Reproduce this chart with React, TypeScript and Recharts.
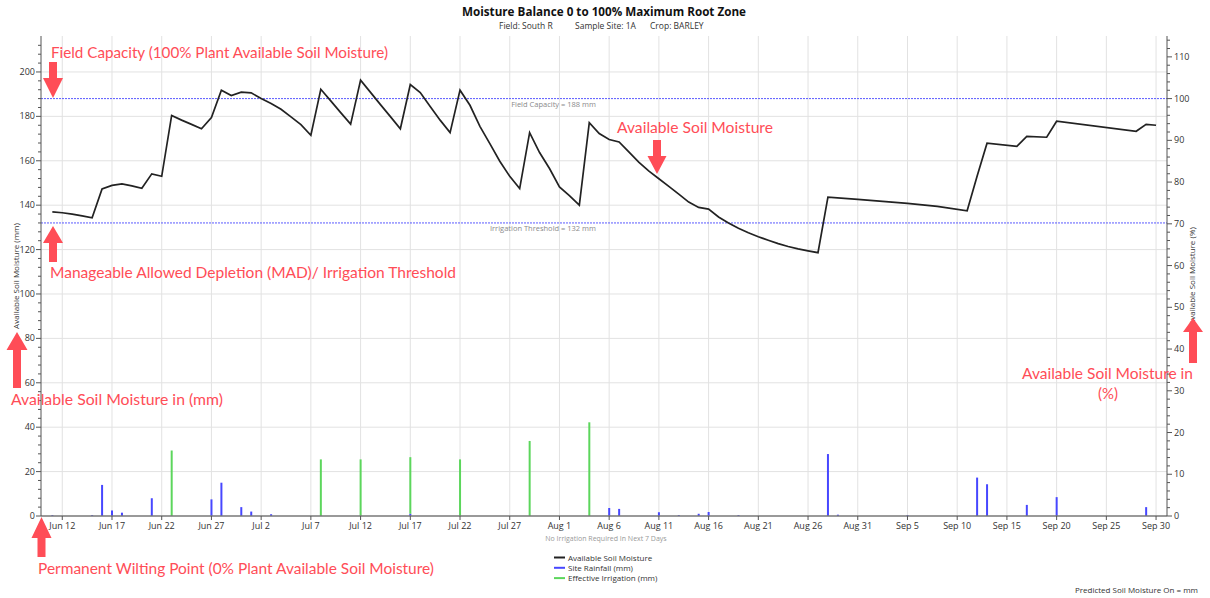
import React from "react";
import {
  ComposedChart,
  Line,
  Bar,
  XAxis,
  YAxis,
  ReferenceLine,
  CartesianGrid,
} from "recharts";

// ---------- DATA ----------
const fieldCapacity = 188; // mm (100%)
const irrigationThreshold = 132; // mm

const asmDates = [
  "06-11", "06-12", "06-13", "06-14", "06-15", "06-16", "06-17", "06-18", "06-19", "06-20",
  "06-21", "06-22", "06-23", "06-24", "06-25", "06-26", "06-27", "06-28", "06-29", "06-30",
  "07-01", "07-02", "07-03", "07-04", "07-05", "07-06", "07-07", "07-08", "07-09", "07-10",
  "07-11", "07-12", "07-13", "07-14", "07-15", "07-16", "07-17", "07-18", "07-19", "07-20",
  "07-21", "07-22", "07-23", "07-24", "07-25", "07-26", "07-27", "07-28", "07-29", "07-30",
  "07-31", "08-01", "08-02", "08-03", "08-04", "08-05", "08-06", "08-07", "08-08", "08-09",
  "08-10", "08-11", "08-12", "08-13", "08-14", "08-15", "08-16", "08-17", "08-18", "08-19",
  "08-20", "08-21", "08-22", "08-23", "08-24", "08-25", "08-26", "08-27", "08-28", "08-31",
  "09-05", "09-08", "09-11", "09-12", "09-13", "09-16", "09-17", "09-19", "09-20", "09-28",
  "09-29", "09-30",
];
const asmValues = [
  137.0, 136.6, 136.0, 135.2, 134.3, 147.3, 148.9, 149.6, 148.7, 147.6,
  154.1, 153.0, 180.4, 178.3, 176.4, 174.4, 179.5, 191.8, 189.4, 190.9,
  190.6, 188.0, 185.8, 183.2, 179.8, 176.3, 171.5, 192.2, 187.0, 181.7,
  176.5, 196.3, 190.8, 185.3, 179.9, 174.4, 194.3, 190.7, 184.5, 178.3,
  172.7, 191.8, 185.0, 175.5, 167.7, 159.8, 153.0, 147.5, 172.7, 163.7,
  156.5, 148.2, 144.3, 140.0, 177.2, 172.3, 169.6, 168.5, 163.9, 159.3,
  155.3, 151.9, 148.5, 145.0, 141.4, 139.0, 138.2, 134.7, 132.0, 129.6,
  127.6, 125.8, 124.2, 122.7, 121.4, 120.3, 119.4, 118.6, 143.6, 142.6,
  140.8, 139.5, 137.5, 153.0, 167.9, 166.5, 171.0, 170.6, 177.8, 173.3,
  176.4, 176.0,
];

const rainDates = [
  "06-11", "06-15", "06-16", "06-17", "06-18", "06-21", "06-27", "06-28", "06-30", "07-01",
  "07-03", "07-17", "08-06", "08-07", "08-11", "08-13", "08-15", "08-16", "08-19", "08-28",
  "08-29", "09-05", "09-12", "09-13", "09-17", "09-20", "09-29",
];
const rainValues = [
  0.4, 0.4, 14.0, 2.5, 1.5, 8.0, 7.5, 15.0, 4.0, 2.0,
  0.8, 1.0, 3.6, 3.2, 1.7, 0.4, 1.0, 1.8, 0.4, 27.9,
  0.6, 0.4, 17.3, 14.3, 5.0, 8.5, 4.0,
];

const irrDates = ["06-23", "07-08", "07-12", "07-17", "07-22", "07-29", "08-04"];
const irrValues = [29.5, 25.5, 25.5, 25.5, 25.5, 33.8, 42.2];

const xTickDates = [
  "06-12", "06-17", "06-22", "06-27", "07-02", "07-07", "07-12", "07-17", "07-22", "07-27",
  "08-01", "08-06", "08-11", "08-16", "08-21", "08-26", "08-31", "09-05", "09-10", "09-15",
  "09-20", "09-25", "09-30",
];
const leftMajorTicks = [0, 20, 40, 60, 80, 100, 120, 140, 160, 180, 200];
const rightMajorTicks = [0, 10, 20, 30, 40, 50, 60, 70, 80, 90, 100, 110];

const seriesNames = ["Available Soil Moisture", "Site Rainfall (mm)", "Effective Irrigation (mm)"];
const seriesColors = ["#222222", "#4747ff", "#5cd65c"];

// ---------- helpers ----------
const MONTHS = ["Jan", "Feb", "Mar", "Apr", "May", "Jun", "Jul", "Aug", "Sep", "Oct", "Nov", "Dec"];
const BASE = Date.UTC(2019, 5, 10);
const toDay = (s: string) => {
  const [m, d] = s.split("-").map(Number);
  return (Date.UTC(2019, m - 1, d) - BASE) / 864e5;
};
const dayLabel = (day: number) => {
  const dt = new Date(BASE + day * 864e5);
  return `${MONTHS[dt.getUTCMonth()]} ${dt.getUTCDate()}`;
};

const rowMap = new Map<number, any>();
const row = (d: number) => {
  if (!rowMap.has(d)) rowMap.set(d, { day: d });
  return rowMap.get(d);
};
asmDates.forEach((s, i) => (row(toDay(s)).asm = asmValues[i]));
rainDates.forEach((s, i) => (row(toDay(s)).rain = rainValues[i]));
irrDates.forEach((s, i) => (row(toDay(s)).irr = irrValues[i]));
const rows = Array.from(rowMap.values()).sort((a, b) => a.day - b.day);

const xTicks = xTickDates.map(toDay);
const xDomain = [-0.14, toDay("10-01") + 0.1];
const leftMax = fieldCapacity * 1.15;
const rightMax = 115;
const leftAllTicks: number[] = [];
for (let v = 0; v <= 212; v += 4) leftAllTicks.push(v);
const rightAllTicks: number[] = [];
for (let v = 0; v <= 114; v += 2) rightAllTicks.push(v);

const FONT = "'Open Sans', 'Noto Sans', sans-serif";
const AXIS = "#555";
const GRID = "#e2e2e2";

const LeftTick = (props: any) => {
  const { x, y, payload } = props;
  const major = leftMajorTicks.includes(payload.value);
  return (
    <g>
      <line x1={x - (major ? 5 : 3)} x2={x} y1={y} y2={y} stroke={AXIS} />
      {major && (
        <text x={x - 6} y={y + 3} textAnchor="end" fontSize={9} fill="#333" fontFamily={FONT}>
          {payload.value}
        </text>
      )}
    </g>
  );
};
const RightTick = (props: any) => {
  const { x, y, payload } = props;
  const major = rightMajorTicks.includes(payload.value);
  return (
    <g>
      <line x1={x} x2={x + (major ? 5 : 3)} y1={y} y2={y} stroke={AXIS} />
      {major && (
        <text x={x + 7} y={y + 3} textAnchor="start" fontSize={9} fill="#333" fontFamily={FONT}>
          {payload.value}
        </text>
      )}
    </g>
  );
};

const refLabel = (text: string) => (props: any) => {
  const vb = props.viewBox;
  return (
    <text
      x={vb.x + vb.width / 2 - 8}
      y={vb.y + 8.5}
      textAnchor="end"
      fontSize={7.5}
      fill="#8a8a8a"
      fontFamily={FONT}
    >
      {text}
    </text>
  );
};

const RED = "#ff4d57";
const arrow = (cx: number, tip: number, headBase: number, tail: number, headW = 20, shaftW = 8) => {
  const hw = headW / 2;
  const sw = shaftW / 2;
  const pts = [
    [cx - sw, tail],
    [cx - sw, headBase],
    [cx - hw, headBase],
    [cx, tip],
    [cx + hw, headBase],
    [cx + sw, headBase],
    [cx + sw, tail],
  ];
  return <polygon points={pts.map((p) => p.join(",")).join(" ")} fill={RED} />;
};

const Ann = ({ x, y, w, children, anchor }: any) => (
  <text
    x={x}
    y={y}
    fontSize={15}
    fill={RED}
    fontFamily="Lato, 'Open Sans', sans-serif"
    textLength={w}
    lengthAdjust="spacingAndGlyphs"
    textAnchor={anchor || "start"}
  >
    {children}
  </text>
);

export default function App() {
  return (
    <div style={{ position: "absolute", left: 0, top: 0, width: 1210, height: 598, background: "#fff" }}>
      <ComposedChart
        width={1210}
        height={598}
        data={rows}
        margin={{ top: 36, right: 13, bottom: 52, left: 11 }}
      >
        <CartesianGrid
          xAxisId="x"
          yAxisId="left"
          stroke={GRID}
          horizontalValues={leftMajorTicks.slice(1)}
          verticalValues={xTicks}
        />
        <XAxis
          dataKey="day"
          type="number"
          xAxisId="x"
          domain={xDomain}
          allowDataOverflow
          ticks={xTicks}
          interval={0}
          tickFormatter={dayLabel}
          tick={{ fontSize: 9, fill: "#333", fontFamily: FONT }}
          tickSize={4}
          tickMargin={3}
          tickLine={{ stroke: AXIS }}
          axisLine={{ stroke: "#777", strokeWidth: 1.5 }}
          height={30}
        />
        <YAxis
          yAxisId="left"
          domain={[0, leftMax]}
          allowDataOverflow
          ticks={leftAllTicks}
          interval={0}
          tick={<LeftTick />}
          tickLine={false}
          tickSize={0}
          tickMargin={0}
          axisLine={{ stroke: AXIS }}
          width={30}
        />
        <YAxis
          yAxisId="right"
          orientation="right"
          domain={[0, rightMax]}
          allowDataOverflow
          ticks={rightAllTicks}
          interval={0}
          tick={<RightTick />}
          tickLine={false}
          tickSize={0}
          tickMargin={0}
          axisLine={{ stroke: AXIS }}
          width={30}
        />
        <ReferenceLine
          xAxisId="x"
          yAxisId="left"
          y={fieldCapacity}
          stroke="#5a5aff"
          strokeDasharray="2 1"
          label={refLabel(`Field Capacity = ${fieldCapacity} mm`)}
        />
        <ReferenceLine
          xAxisId="x"
          yAxisId="left"
          y={irrigationThreshold}
          stroke="#5a5aff"
          strokeDasharray="2 1"
          label={refLabel(`Irrigation Threshold = ${irrigationThreshold} mm`)}
        />
        <Bar xAxisId="x" yAxisId="left" dataKey="rain" stackId="s" fill={seriesColors[1]} barSize={2} isAnimationActive={false} />
        <Bar xAxisId="x" yAxisId="left" dataKey="irr" stackId="s" fill={seriesColors[2]} barSize={2} isAnimationActive={false} />
        <Line
          xAxisId="x"
          yAxisId="left"
          dataKey="asm"
          stroke={seriesColors[0]}
          strokeWidth={1.7}
          dot={false}
          connectNulls
          isAnimationActive={false}
        />
      </ComposedChart>

      <svg
        width={1210}
        height={598}
        style={{ position: "absolute", left: 0, top: 0, pointerEvents: "none" }}
      >
        <text x={604} y={16} textAnchor="middle" fontSize={12.5} fontWeight="bold" fill="#111" fontFamily={FONT} textLength={284} lengthAdjust="spacingAndGlyphs">
          Moisture Balance 0 to 100% Maximum Root Zone
        </text>
        <text x={499} y={29} fontSize={8.5} fill="#333" fontFamily={FONT}>Field: South R</text>
        <text x={575} y={29} fontSize={8.5} fill="#333" fontFamily={FONT}>Sample Site: 1A</text>
        <text x={650} y={29} fontSize={8.5} fill="#333" fontFamily={FONT}>Crop: BARLEY</text>

        <text transform="translate(19,276) rotate(-90)" textAnchor="middle" fontSize={8} fill="#333" fontFamily={FONT}>
          Available Soil Moisture (mm)
        </text>
        <text transform="translate(1195,276) rotate(-90)" textAnchor="middle" fontSize={8} fill="#333" fontFamily={FONT}>
          Available Soil Moisture (%)
        </text>

        <text x={606} y={541} textAnchor="middle" fontSize={7} fill="#999" fontFamily={FONT}>
          No Irrigation Required In Next 7 Days
        </text>

        {seriesNames.map((n, i) => (
          <g key={n}>
            <line x1={554} x2={565} y1={557.5 + i * 10.3} y2={557.5 + i * 10.3} stroke={seriesColors[i]} strokeWidth={2} />
            <text x={568} y={560.5 + i * 10.3} fontSize={8} fill="#333" fontFamily={FONT}>{n}</text>
          </g>
        ))}

        <text x={1198} y={593} textAnchor="end" fontSize={8} fill="#333" fontFamily={FONT}>
          Predicted Soil Moisture On  =  mm
        </text>

        {arrow(53, 98, 78, 62)}
        {arrow(53, 226, 243, 262)}
        {arrow(657, 174, 156, 140, 19)}
        {arrow(17, 332, 350, 388, 21)}
        {arrow(41.5, 517, 538, 557)}
        {arrow(1193, 318, 332, 363)}

        <Ann x={51} y={58} w={337}>Field Capacity (100% Plant Available Soil Moisture)</Ann>
        <Ann x={50} y={278} w={406}>Manageable Allowed Depletion (MAD)/ Irrigation Threshold</Ann>
        <Ann x={617} y={133} w={156}>Available Soil Moisture</Ann>
        <Ann x={11} y={405} w={212}>Available Soil Moisture in (mm)</Ann>
        <Ann x={1022} y={379} w={171}>Available Soil Moisture in</Ann>
        <Ann x={1108} y={399} w={20} anchor="middle">(%)</Ann>
        <Ann x={38} y={574} w={396}>Permanent Wilting Point (0% Plant Available Soil Moisture)</Ann>
      </svg>
    </div>
  );
}
